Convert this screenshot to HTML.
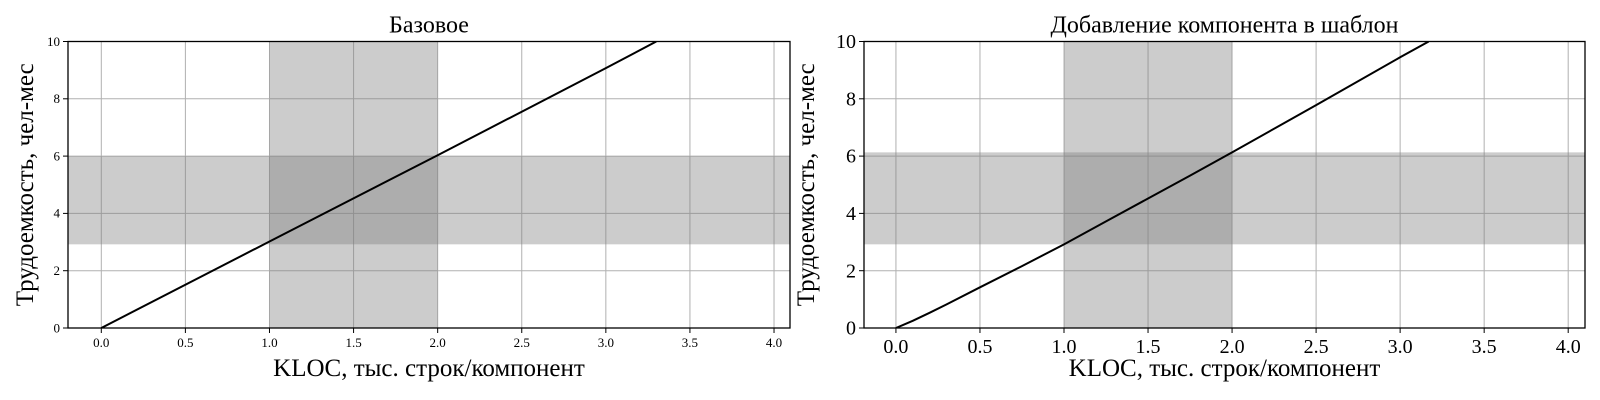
<!DOCTYPE html>
<html><head><meta charset="utf-8"><style>
body{margin:0;background:#fff}
svg{display:block;font-family:"Liberation Serif",serif}
</style></head><body>
<svg id="chart" width="1600" height="400"></svg>
<script>
const xTicks=[0,0.5,1,1.5,2,2.5,3,3.5,4];
const xTickLabels=["0.0","0.5","1.0","1.5","2.0","2.5","3.0","3.5","4.0"];
const yTicks=[0,2,4,6,8,10];
const yTickLabels=["0","2","4","6","8","10"];
const leftLineX=[0,1,2,3,3.3];
const leftLineY=[0,3.02,6.03,9.07,10];
const rightLineX=[0,0.1,0.2,0.3,0.5,0.75,1,1.25,1.5,1.75,2,2.5,3,3.17];
const rightLineY=[0,0.25,0.53,0.82,1.42,2.16,2.92,3.72,4.52,5.32,6.13,7.78,9.45,10];
const leftHBand=[2.92,6.0];
const rightHBand=[2.92,6.13];
const vBand=[1.0,2.0];
const titles=["Базовое","Добавление компонента в шаблон"];

const NS="http://www.w3.org/2000/svg";
const svg=document.getElementById('chart');
function mk(tag,attrs,parent){const e=document.createElementNS(NS,tag);for(const k in attrs)e.setAttribute(k,attrs[k]);(parent||svg).appendChild(e);return e;}

function panel(cfg){
  const {L,R,T,B,xmin,xmax,lx,ly,hb,title,tickFs,name}=cfg;
  const g=mk('g',{});
  
  
  const sx=v=>L+(v-xmin)/(xmax-xmin)*(R-L);
  const sy=v=>B-(v/10)*(B-T);
  xTicks.forEach(t=>{const l=mk('line',{x1:sx(t),x2:sx(t),y1:T,y2:B,stroke:'#b0b0b0','stroke-width':1},g);
    });
  yTicks.forEach(t=>{const l=mk('line',{x1:L,x2:R,y1:sy(t),y2:sy(t),stroke:'#b0b0b0','stroke-width':1},g);
    });
  const h=mk('rect',{x:L,y:sy(hb[1]),width:R-L,height:sy(hb[0])-sy(hb[1]),fill:'rgba(128,128,128,0.4)'},g);
  
  const v=mk('rect',{x:sx(vBand[0]),y:T,width:sx(vBand[1])-sx(vBand[0]),height:B-T,fill:'rgba(128,128,128,0.4)'},g);
  
  const pts=lx.map((x,i)=>sx(x)+','+sy(ly[i])).join(' ');
  const cp=mk('clipPath',{id:name+'-clip'},g);mk('rect',{x:L,y:T,width:R-L,height:B-T},cp);
  const pl=mk('polyline',{points:pts,fill:'none',stroke:'#000','stroke-width':2,'stroke-linejoin':'round','clip-path':'url(#'+name+'-clip)'},g);
  
  const fr=mk('rect',{x:L,y:T,width:R-L,height:B-T,fill:'none',stroke:'#000','stroke-width':1.3},g);
  
  xTicks.forEach((t,i)=>{mk('line',{x1:sx(t),x2:sx(t),y1:B,y2:B+5,stroke:'#000'},g);
    const tx=mk('text',{x:sx(t),y:B+8+tickFs*0.85,'text-anchor':'middle','font-size':tickFs},g);tx.textContent=xTickLabels[i];
    });
  yTicks.forEach((t,i)=>{mk('line',{x1:L-5,x2:L,y1:sy(t),y2:sy(t),stroke:'#000'},g);
    const tx=mk('text',{x:L-8,y:sy(t)+tickFs*0.33,'text-anchor':'end','font-size':tickFs},g);tx.textContent=yTickLabels[i];
    });
  const tt=mk('text',{x:(L+R)/2,y:T-9,'text-anchor':'middle','font-size':24},g);tt.textContent=title;
  
  const xl=mk('text',{x:(L+R)/2,y:376,'text-anchor':'middle','font-size':25},g);xl.textContent='KLOC, тыс. строк/компонент';
  
  const yx=cfg.ylx, yy=(T+B)/2;
  const yl=mk('text',{x:yx,y:yy,'text-anchor':'middle','font-size':25,transform:'rotate(-90 '+yx+' '+yy+')'},g);yl.textContent='Трудоемкость, чел-мес';
  
}
panel({L:68,R:790,T:41.5,B:328,xmin:-0.198,xmax:4.095,lx:leftLineX,ly:leftLineY,hb:leftHBand,title:titles[0],tickFs:13,name:'base-panel',ylx:33});
panel({L:864,R:1585,T:41.5,B:328,xmin:-0.19,xmax:4.1,lx:rightLineX,ly:rightLineY,hb:rightHBand,title:titles[1],tickFs:20,name:'template-panel',ylx:814});
</script>
</body></html>
